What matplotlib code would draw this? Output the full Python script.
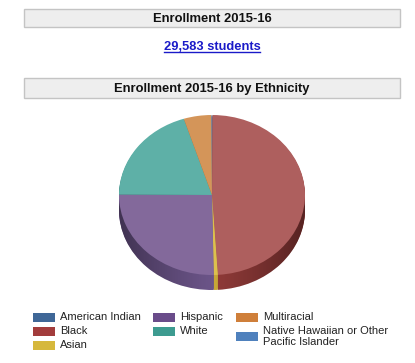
#!/usr/bin/env python3
"""Enrollment by ethnicity, fake-3D pie with page style header bars."""

import numpy as np
import matplotlib
matplotlib.use("Agg")
import matplotlib.pyplot as plt
from matplotlib.patches import Ellipse, Rectangle

# ── Data ──────────────────────────────────────────────────────────────────────
groups = ["American Indian", "Black", "Asian", "Hispanic", "White", "Multiracial",
          "Native Hawaiian or Other\nPacific Islander"]
shares = [0.1, 48.9, 0.7, 25.4, 20.0, 4.8, 0.1]

top_colors = ["#6f86a8", "#ae5f5e", "#dcc04e", "#83699b", "#5eb0a7", "#d49559", "#6f8fc0"]
side_colors = ["#3a4f6e", "#8f3a38", "#c8a838", "#6b5488", "#357d75", "#9c6a34", "#3f5f90"]
legend_colors = ["#3f6797", "#a23c3c", "#d6b83c", "#6a4c8a", "#3d9b90", "#cf7f3a", "#4f81bd"]

W, H = 415, 363
CX, CY, RX, RY, DEPTH = 212, 195, 93, 80, 15
plt.rcParams["font.family"] = ["Liberation Sans", "DejaVu Sans"]

fig = plt.figure(figsize=(W / 100, H / 100), dpi=100)

# overlay in pixel coordinates, y pointing down
page = fig.add_axes([0, 0, 1, 1], zorder=3)
page.set_xlim(0, W)
page.set_ylim(H, 0)
page.axis("off")


def header(y0, y1, x1, label):
    page.add_patch(Rectangle((24, y0), x1 - 24, y1 - y0, facecolor="#eeeeee",
                             edgecolor="#c4c4c4", linewidth=1.0))
    page.text((24 + x1) / 2, (y0 + y1) / 2 + 1.5, label, ha="center", va="center",
              fontsize=9.35, fontweight="bold", color="#111111")


header(8.5, 27, 400, "Enrollment 2015-16")
header(77.5, 98, 399.5, "Enrollment 2015-16 by Ethnicity")

page.text(212, 46.5, "29,583 students", ha="center", va="center",
          fontsize=9.25, fontweight="bold", color="#1a1ac8")
page.plot([164, 260], [51.5, 51.5], color="#1a1ac8", linewidth=1)


def pie_axes(cy):
    return fig.add_axes([(CX - RX) / W, 1 - (cy + RY) / H, 2 * RX / W, 2 * RY / H])


def draw_pie(cy, colors):
    ax = pie_axes(cy)
    ax.pie(shares, colors=colors, startangle=90, counterclock=False, radius=1)
    ax.set_aspect("auto")
    ax.set_xlim(-1, 1)
    ax.set_ylim(-1, 1)
    return ax


# side wall: copies stepped downward
for depth in range(DEPTH, 0, -1):
    draw_pie(CY + depth, side_colors)

# wall gets darker toward the left and right ends
shade = fig.add_axes([0, 0, 1, 1])
shade.set_xlim(0, W)
shade.set_ylim(H, 0)
shade.axis("off")
ramp = np.zeros((2, 200, 4))
ramp[:, :, 3] = 0.40 * np.abs(np.linspace(-1, 1, 200)) ** 1.2
img = shade.imshow(ramp, extent=(CX - RX, CX + RX, CY + RY + DEPTH, CY), aspect="auto", zorder=2)
shade.set_xlim(0, W)
shade.set_ylim(H, 0)
wall = Ellipse((CX, CY + DEPTH), 2 * RX, 2 * RY, transform=shade.transData)
img.set_clip_path(wall)

draw_pie(CY, top_colors)

# ── Legend ────────────────────────────────────────────────────────────────────
legend_x = [33, 33, 33, 153, 153, 236, 236]
legend_y = [317, 331, 345, 317, 331, 317, 336.5]
for name, color, lx, ly in zip(groups, legend_colors, legend_x, legend_y):
    page.add_patch(Rectangle((lx, ly - 4.5), 22, 9, facecolor=color, edgecolor="none"))
    page.text(lx + 27, ly, name, ha="left", va="center", fontsize=8.0,
              color="#222222", linespacing=1.2)

fig.savefig("out.png", dpi=100)
